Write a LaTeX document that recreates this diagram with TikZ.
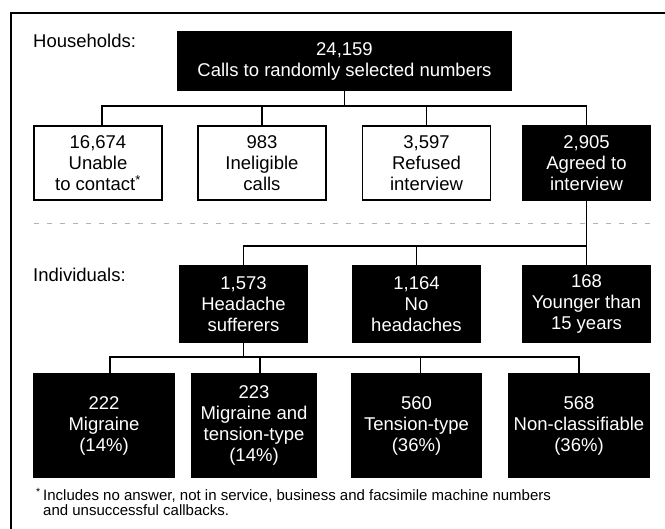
\documentclass[tikz,border=0pt]{standalone}
\usepackage{fontspec}
\setmainfont{Liberation Sans}
\usetikzlibrary{positioning}
\tikzset{%
    base/.style = {
        rectangle, draw=black, line width=1.1pt, align=center,
        inner sep=0pt, minimum width=128pt, minimum height=74pt,
        font=\fontsize{18.5}{21}\selectfont
    },
    outcome/.style = {base, fill=white, text=black},
    kept/.style = {base, fill=black, text=white},
    rowlabel/.style = {anchor=base west, inner sep=0pt,
        font=\fontsize{18.5}{21}\selectfont},
    link/.style = {line width=1.1pt},
}

\begin{document}
\begin{tikzpicture}[x=1pt, y=-1pt]
        \useasboundingbox (0,0) rectangle (665,529);
        % Frame
        \draw[line width=1.6pt] (11,529) -- (11,13) -- (665,13);
        % Nodes position
        \node (households) [rowlabel] at (33,48) {Households:};
        \node (calls)      [kept, minimum width=333pt, minimum height=58pt]
            at (344.5,61) {24,159\\Calls to randomly selected numbers};

        \node (unable)     [outcome] at (98,163)
            {16,674\\Unable\\to contact\textsuperscript{*}};
        \node (ineligible) [outcome] at (262,163) {983\\Ineligible\\calls};
        \node (refused)    [outcome] at (426.5,163) {3,597\\Refused\\interview};
        \node (agreed)     [kept] at (586.5,163) {2,905\\Agreed to\\interview};

        \coordinate (divL) at (34,223);
        \coordinate (divR) at (650,223);

        \node (individuals) [rowlabel] at (33,282) {Individuals:};
        \node (sufferers)  [kept, minimum height=76pt] at (243.5,304)
            {1,573\\Headache\\sufferers};
        \node (noheadache) [kept, minimum height=76pt] at (416.5,304)
            {1,164\\No\\headaches};
        \node (younger)    [kept, minimum height=76pt] at (586.5,304)
            {168\\Younger than\\15 years};

        \node (migraine)   [kept, minimum width=140pt, minimum height=103pt]
            at (104,425.5) {222\\Migraine\\(14\%)};
        \node (both)       [kept, minimum width=124pt, minimum height=103pt]
            at (254,425.5) {223\\Migraine and\\tension-type\\(14\%)};
        \node (tension)    [kept, minimum width=129pt, minimum height=103pt]
            at (416.5,425.5) {560\\Tension-type\\(36\%)};
        \node (nonclass)   [kept, minimum width=140pt, minimum height=103pt]
            at (579,425.5) {568\\Non-classifiable\\(36\%)};

        \node (footnote) [anchor=north west, inner sep=0pt, align=left,
            font=\fontsize{15}{14.5}\selectfont] at (43,488)
            {\llap{\textsuperscript{*}\,}Includes no answer, not in service,
             business and facsimile machine numbers\\and unsuccessful callbacks.};

        % Connector specification
        \coordinate (bus1) at (0,106);
        \coordinate (bus2) at (0,246);
        \coordinate (bus3) at (0,357);
        \draw[link] (calls.south) -- (calls.south |- bus1);
        \draw[link] ([xshift=4pt]unable.north) -- ([xshift=4pt]unable.north |- bus1)
            -- (agreed.north |- bus1) -- (agreed.north);
        \draw[link] (ineligible.north) -- (ineligible.north |- bus1);
        \draw[link] (refused.north) -- (refused.north |- bus1);

        \draw[gray!60, line width=0.9pt, dash pattern=on 5pt off 8pt]
            (divL) -- (divR);

        \draw[link] (agreed.south) -- (younger.north);
        \draw[link] (sufferers.north) -- (sufferers.north |- bus2)
            -- (younger.north |- bus2);
        \draw[link] (noheadache.north) -- (noheadache.north |- bus2);

        \draw[link] (sufferers.south) -- (sufferers.south |- bus3);
        \draw[link] ([xshift=6pt]migraine.north) -- ([xshift=6pt]migraine.north |- bus3)
            -- (nonclass.north |- bus3) -- (nonclass.north);
        \draw[link] ([xshift=6pt]both.north) -- ([xshift=6pt]both.north |- bus3);
        \draw[link] ([xshift=4pt]tension.north) -- ([xshift=4pt]tension.north |- bus3);
    \end{tikzpicture}
\end{document}
